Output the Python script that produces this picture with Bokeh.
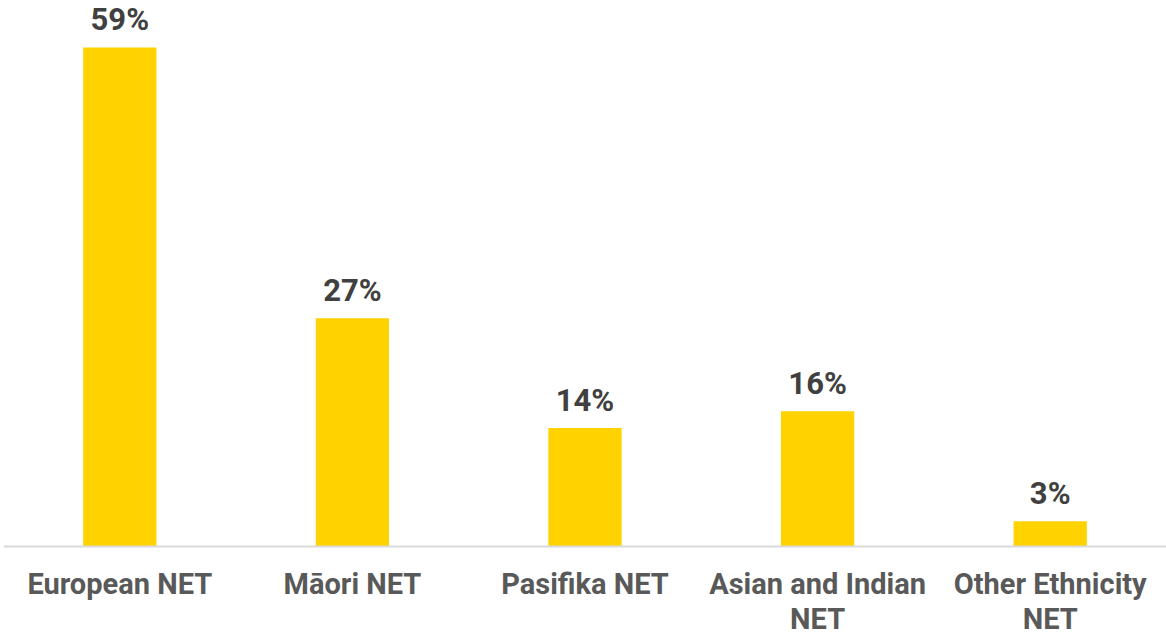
from bokeh.plotting import figure
from bokeh.models import ColumnDataSource, Range1d, FactorRange, Span
from bokeh.core.properties import value
from bokeh.embed import file_html
from bokeh.resources import INLINE

categories = ["European NET", "Māori NET", "Pasifika NET", "Asian and Indian NET", "Other Ethnicity NET"]
category_labels = ["European NET", "Māori NET", "Pasifika NET", "Asian and Indian\nNET", "Other Ethnicity\nNET"]
values = [59, 27, 14, 16, 3]
value_labels = ["59%", "27%", "14%", "16%", "3%"]

src = ColumnDataSource(dict(cat=categories, val=values, lab=value_labels,
                            clab=category_labels, zero=[0] * len(values)))

p = figure(x_range=FactorRange(*categories), y_range=Range1d(-10.52, 64.55),
           width=1166, height=635, output_backend="svg", toolbar_location=None,
           min_border_left=3, min_border_right=0, min_border_top=0, min_border_bottom=0)

p.vbar(x="cat", top="val", width=0.315, source=src, color="#FFD200", line_color=None)
p.add_layout(Span(location=0, dimension="width", line_color="#D9D9D9", line_width=2))
p.text(x="cat", y="val", text="lab", source=src, text_align="center", text_baseline="alphabetic",
       y_offset=-28, text_font=value("Roboto"), text_font_style="bold", text_font_size="31px",
       text_color="#404040")
p.text(x="cat", y="zero", text="clab", source=src, text_align="center", text_baseline="top",
       y_offset=20, text_font=value("Roboto"), text_font_style="bold", text_font_size="29px",
       text_color="#595959", text_line_height=1.05)

p.xaxis.visible = False
p.yaxis.visible = False
p.xgrid.visible = False
p.ygrid.visible = False
p.outline_line_color = None

open("out.html", "w").write(file_html(p, INLINE))
